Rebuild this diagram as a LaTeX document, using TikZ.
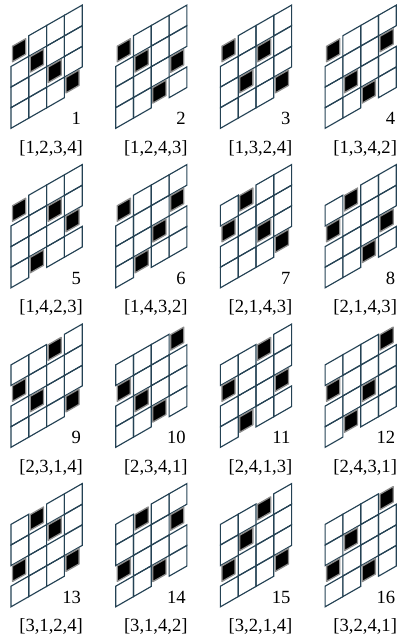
\documentclass[tikz,border=0pt]{standalone}
\usepackage{fontspec}
\setmainfont{Liberation Serif}
\definecolor{gridc}{RGB}{36,66,84}
\tikzset{
  gridcell/.style={draw=gridc, line width=1.15pt, line join=miter},
  glowcell/.style={fill=black, draw=black!45, line width=1.3pt, line join=round},
  numlbl/.style={anchor=base east, inner sep=0pt, font=\fontsize{18.6}{20}\selectfont},
  permlbl/.style={anchor=base, inner sep=0pt, font=\fontsize{18.6}{20}\selectfont},
}
\newcommand\permgrid[8]{%
  \pgfmathsetmacro\gx{11+104.7*#1}%
  \pgfmathsetmacro\gb{128.3+159.5*#2}%
  \begin{scope}[shift={(\gx pt,-\gb pt)}, x={(17.8pt,10.2pt)}, y={(0pt,20.6pt)}]
    \foreach \c/\v in {0/#4,1/#5,2/#6,3/#7}{
      \foreach \k in {1,...,4}{
        \pgfmathtruncatemacro\j{4-\k}
        \ifnum\k=\v\relax
          \filldraw[glowcell] (\c+0.085,\j+0.19) -- ++(0.74,0) -- ++(0,0.75) -- ++(-0.74,0) -- cycle;
        \else
          \draw[gridcell] (\c,\j) -- ++(1,0) -- ++(0,1) -- ++(-1,0) -- cycle;
        \fi
      }
    }
  \end{scope}
  \node[numlbl] (num#3) at (\gx pt+70.2pt, -\gb pt+3.8pt) {#3};
  \node[permlbl] (perm#3) at (\gx pt+40.1pt, -\gb pt-25pt) {#8};
}
\begin{document}
\begin{tikzpicture}
  \useasboundingbox (0,0) rectangle (401pt,-639pt);
  \permgrid{0}{0}{1}{1}{2}{3}{4}{[1,2,3,4]}
  \permgrid{1}{0}{2}{1}{2}{4}{3}{[1,2,4,3]}
  \permgrid{2}{0}{3}{1}{3}{2}{4}{[1,3,2,4]}
  \permgrid{3}{0}{4}{1}{3}{4}{2}{[1,3,4,2]}
  \permgrid{0}{1}{5}{1}{4}{2}{3}{[1,4,2,3]}
  \permgrid{1}{1}{6}{1}{4}{3}{2}{[1,4,3,2]}
  \permgrid{2}{1}{7}{2}{1}{3}{4}{[2,1,4,3]}
  \permgrid{3}{1}{8}{2}{1}{4}{3}{[2,1,4,3]}
  \permgrid{0}{2}{9}{2}{3}{1}{4}{[2,3,1,4]}
  \permgrid{1}{2}{10}{2}{3}{4}{1}{[2,3,4,1]}
  \permgrid{2}{2}{11}{2}{4}{1}{3}{[2,4,1,3]}
  \permgrid{3}{2}{12}{2}{4}{3}{1}{[2,4,3,1]}
  \permgrid{0}{3}{13}{3}{1}{2}{4}{[3,1,2,4]}
  \permgrid{1}{3}{14}{3}{1}{4}{2}{[3,1,4,2]}
  \permgrid{2}{3}{15}{3}{2}{1}{4}{[3,2,1,4]}
  \permgrid{3}{3}{16}{3}{2}{4}{1}{[3,2,4,1]}
\end{tikzpicture}
\end{document}
